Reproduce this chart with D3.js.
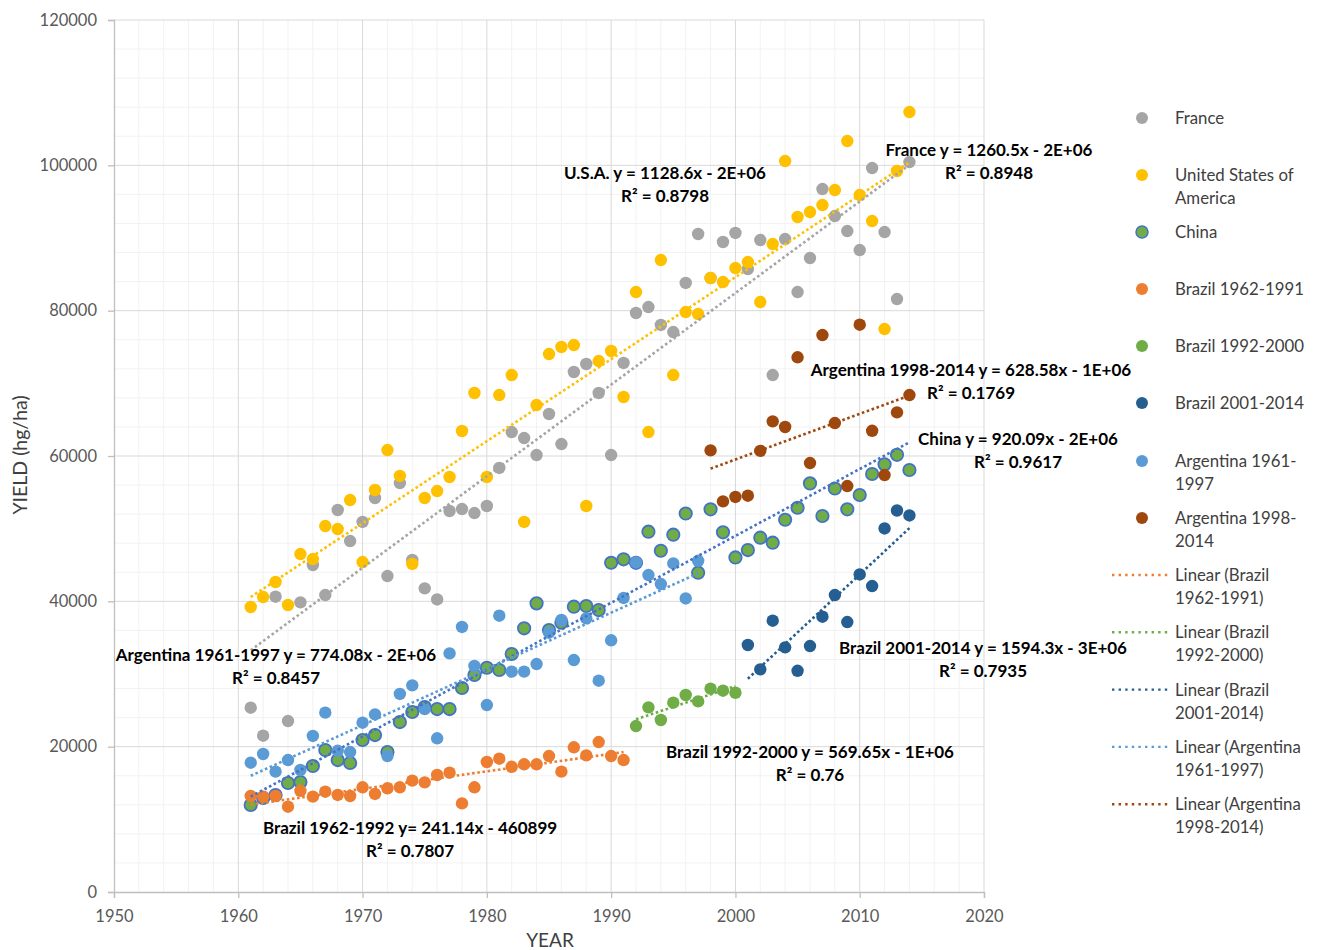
<!DOCTYPE html>
<html>
<head>
<meta charset="utf-8">
<script src="https://cdn.jsdelivr.net/npm/d3@7"></script>
<style>
  html, body { margin: 0; padding: 0; background: #fff; }
  svg { display: block; font-family: Lato, "Noto Sans", sans-serif; }
</style>
</head>
<body>
<svg id="chart" width="1317" height="950"></svg>
<script>
// Wheat yield per year (hg/ha)
const franceYears = d3.range(1961, 2015);
const franceYield = [25360,21510,40640,23530,39860,45000,40870,52570,48300,50920,
  54220,43480,56280,45690,41790,40260,52430,52700,52150,53120,
  58350,63300,62470,60130,65780,61650,71560,72660,68670,60130,
  72800,79680,80500,78030,77060,83810,90550,84490,89450,90690,
  85730,89720,71140,89860,82560,87240,96740,93020,90960,88340,
  99630,90820,81600,100450];

const usaYears = d3.range(1961, 2015);
const usaYield = [39220,40590,42660,39490,46510,45820,50360,49950,53940,45410,
  55320,60820,57250,45140,54220,55180,57110,63440,68670,57110,
  68390,71140,50920,67010,74030,75000,75270,53120,73070,74450,
  68120,82560,63300,86970,71140,79810,79540,84490,83940,85870,
  86690,81190,89170,100590,92890,93570,94540,96600,103340,95910,
  92330,77470,99220,107330];

const chinaYears = d3.range(1961, 2015);
const chinaYield = [11970,12940,13350,15000,15140,17340,19540,18160,17750,20920,
  21600,19260,23390,24770,25460,25180,25180,28070,29860,30860,
  30550,32750,36290,39720,36050,37060,39260,39360,38800,45310,
  45780,45300,49580,46960,49170,52090,43940,52660,49500,46040,
  47060,48760,48070,51230,52880,56230,51740,55530,52660,54630,
  57520,58850,60160,58070];

const brazil1Years = d3.range(1961, 1992);
const brazil1Yield = [13210,13120,13210,11740,13930,13120,13800,13350,13210,14410,
  13490,14270,14410,15320,15090,16100,16420,12190,14410,17890,
  18340,17230,17570,17570,18710,16560,19910,18800,20640,18710,
  18160];

const brazil2Years = d3.range(1992, 2001);
const brazil2Yield = [22840,25410,23670,26050,27110,26230,27980,27700,27420];

const brazil3Years = d3.range(2001, 2015);
const brazil3Yield = [33990,30640,37330,33670,30440,33850,37880,40870,37150,43700,
  42100,50030,52500,51820];

const argentina1Years = d3.range(1961, 1998);
const argentina1Yield = [17790,18990,16560,18160,16790,21470,24680,19430,19260,23300,
  24450,18710,27250,28440,25180,21150,32840,36470,31100,25730,
  38020,30320,30320,31370,35680,37430,31920,37650,29080,34640,
  40460,45350,43620,42380,45210,40400,45580];

const argentina2Years = d3.range(1998, 2015);
const argentina2Yield = [60770,53760,54360,54540,60710,64770,63990,73580,59030,76650,
  64540,55870,78070,63470,57380,66010,68390];

// Series names, colours and fitted-trend labels
const seriesNames = ["France","United States of America","China","Brazil 1962-1991",
  "Brazil 1992-2000","Brazil 2001-2014","Argentina 1961-1997","Argentina 1998-2014"];
const seriesFill = ["#A5A5A5","#FFC000","#70AD47","#ED7D31","#70AD47","#255E91","#5B9BD5","#9E480E"];
const seriesStroke = [null,null,"#4472C4",null,null,null,null,null];
const trendColor = ["#A5A5A5","#FFC000","#4472C4","#ED7D31","#70AD47","#255E91","#5B9BD5","#9E480E"];
const trendSlope = [1260.5,1128.6,920.09,241.14,569.65,1594.3,774.08,628.58];
const trendLine1 = ["France y = 1260.5x - 2E+06","U.S.A. y = 1128.6x - 2E+06","China y = 920.09x - 2E+06",
  "Brazil 1962-1992 y= 241.14x - 460899","Brazil 1992-2000 y = 569.65x - 1E+06",
  "Brazil 2001-2014  y = 1594.3x - 3E+06","Argentina 1961-1997 y = 774.08x - 2E+06",
  "Argentina 1998-2014 y = 628.58x - 1E+06"];
const trendLine2 = ["R² = 0.8948","R² = 0.8798","R² = 0.9617","R² = 0.7807","R² = 0.76",
  "R² = 0.7935","R² = 0.8457","R² = 0.1769"];
const trendLabelPos = [[989,150],[665,173],[1018,439],[410,828],[810,752],[983,648],[276,655],[971,370]];

const legendLinear = ["Linear (Brazil|1962-1991)","Linear (Brazil|1992-2000)","Linear (Brazil|2001-2014)",
  "Linear (Argentina|1961-1997)","Linear (Argentina|1998-2014)"];
const legendLinearIdx = [3,4,5,6,7];

const allYears = [franceYears,usaYears,chinaYears,brazil1Years,brazil2Years,brazil3Years,argentina1Years,argentina2Years];
const allYield = [franceYield,usaYield,chinaYield,brazil1Yield,brazil2Yield,brazil3Yield,argentina1Yield,argentina2Yield];

const svg = d3.select("#chart");
const x = d3.scaleLinear().domain([1950, 2020]).range([114, 984]);
const y = d3.scaleLinear().domain([0, 120000]).range([892, 20]);

// grid
const grid = svg.append("g");
grid.selectAll(".vminor").data(d3.range(1950, 2021, 2).filter(v => v % 10 !== 0)).join("line")
  .attr("x1", d => x(d)).attr("x2", d => x(d)).attr("y1", y(0)).attr("y2", y(120000))
  .attr("stroke", "#F2F2F2").attr("stroke-width", 1);
grid.selectAll(".hminor").data(d3.range(0, 120001, 4000).filter(v => v % 20000 !== 0)).join("line")
  .attr("x1", x(1950)).attr("x2", x(2020)).attr("y1", d => y(d)).attr("y2", d => y(d))
  .attr("stroke", "#F2F2F2").attr("stroke-width", 1);
grid.selectAll(".vmajor").data(d3.range(1960, 2021, 10)).join("line")
  .attr("x1", d => x(d)).attr("x2", d => x(d)).attr("y1", y(0)).attr("y2", y(120000))
  .attr("stroke", "#D9D9D9").attr("stroke-width", 1);
grid.selectAll(".hmajor").data(d3.range(20000, 120001, 20000)).join("line")
  .attr("x1", x(1950)).attr("x2", x(2020)).attr("y1", d => y(d)).attr("y2", d => y(d))
  .attr("stroke", "#D9D9D9").attr("stroke-width", 1);

// axes
const xAxis = svg.append("g").attr("transform", `translate(0,${y(0)})`)
  .call(d3.axisBottom(x).tickValues(d3.range(1950, 2021, 10)).tickFormat(d3.format("d")).tickSize(6).tickPadding(12));
const yAxis = svg.append("g").attr("transform", `translate(${x(1950)},0)`)
  .call(d3.axisLeft(y).tickValues(d3.range(0, 120001, 20000)).tickFormat(d3.format("d")).tickSize(6).tickPadding(11));
[xAxis, yAxis].forEach(a => {
  a.select(".domain").attr("stroke", "#BFBFBF").attr("stroke-width", 1.3);
  a.selectAll(".tick line").attr("stroke", "#BFBFBF").attr("stroke-width", 1.3);
  a.selectAll(".tick text").attr("fill", "#595959").style("font-size", "16.5px").style("font-family", "Lato, sans-serif");
});

svg.append("text").attr("x", 550).attr("y", 947).attr("text-anchor", "middle")
  .attr("fill", "#404040").style("font-size", "19px").text("YEAR");
svg.append("text").attr("transform", "translate(27,455) rotate(-90)").attr("text-anchor", "middle")
  .attr("fill", "#404040").style("font-size", "19.5px").text("YIELD (hg/ha)");

// markers
allYield.forEach((vals, i) => {
  const yrs = allYears[i];
  svg.append("g").selectAll("circle").data(vals).join("circle")
    .attr("cx", (d, k) => x(yrs[k])).attr("cy", d => y(d)).attr("r", 6.2)
    .attr("fill", seriesFill[i])
    .attr("stroke", seriesStroke[i] || "none").attr("stroke-width", seriesStroke[i] ? 1.8 : 0);
});

// linear trends: stated slope through the series' mean point
allYield.forEach((vals, i) => {
  const yrs = allYears[i];
  const mx = d3.mean(yrs), my = d3.mean(vals);
  const f = t => my + trendSlope[i] * (t - mx);
  const x0 = d3.min(yrs), x1 = d3.max(yrs);
  svg.append("line")
    .attr("x1", x(x0)).attr("y1", y(f(x0))).attr("x2", x(x1)).attr("y2", y(f(x1)))
    .attr("stroke", trendColor[i]).attr("stroke-width", 2.6)
    .attr("stroke-dasharray", "2.6 2.6");
});

// trend equations
trendLine1.forEach((t, i) => {
  const [cx, cy] = trendLabelPos[i];
  const g = svg.append("g").attr("font-weight", "bold").attr("fill", "#000").style("font-size", "17px");
  g.append("text").attr("x", cx).attr("y", cy + 6).attr("text-anchor", "middle").text(t);
  g.append("text").attr("x", cx).attr("y", cy + 29).attr("text-anchor", "middle").text(trendLine2[i]);
});

// legend
const legend = svg.append("g").style("font-size", "16.8px").attr("fill", "#404040");
const legendRows = [[118],[175,198],[232],[289],[346],[403],[461,484],[518,541]];
const legendText = [["France"],["United States of","America"],["China"],["Brazil 1962-1991"],
  ["Brazil 1992-2000"],["Brazil 2001-2014"],["Argentina 1961-","1997"],["Argentina 1998-","2014"]];
seriesNames.forEach((name, i) => {
  const ry = legendRows[i];
  legend.append("circle").attr("cx", 1142).attr("cy", ry[0]).attr("r", 6)
    .attr("fill", seriesFill[i]).attr("stroke", seriesStroke[i] || "none").attr("stroke-width", seriesStroke[i] ? 1.5 : 0);
  legendText[i].forEach((line, k) => {
    legend.append("text").attr("x", 1175).attr("y", ry[k] + 6).attr("fill", "#404040").text(line);
  });
});
legendLinear.forEach((lab, j) => {
  const ry = 575 + j * 57.3;
  const i = legendLinearIdx[j];
  legend.append("line").attr("x1", 1112).attr("x2", 1170).attr("y1", ry).attr("y2", ry)
    .attr("stroke", trendColor[i]).attr("stroke-width", 2.4).attr("stroke-dasharray", "2.4 4.2");
  lab.split("|").forEach((line, k) => {
    legend.append("text").attr("x", 1175).attr("y", ry + 6 + k * 23).attr("fill", "#404040").text(line);
  });
});
</script>
</body>
</html>
